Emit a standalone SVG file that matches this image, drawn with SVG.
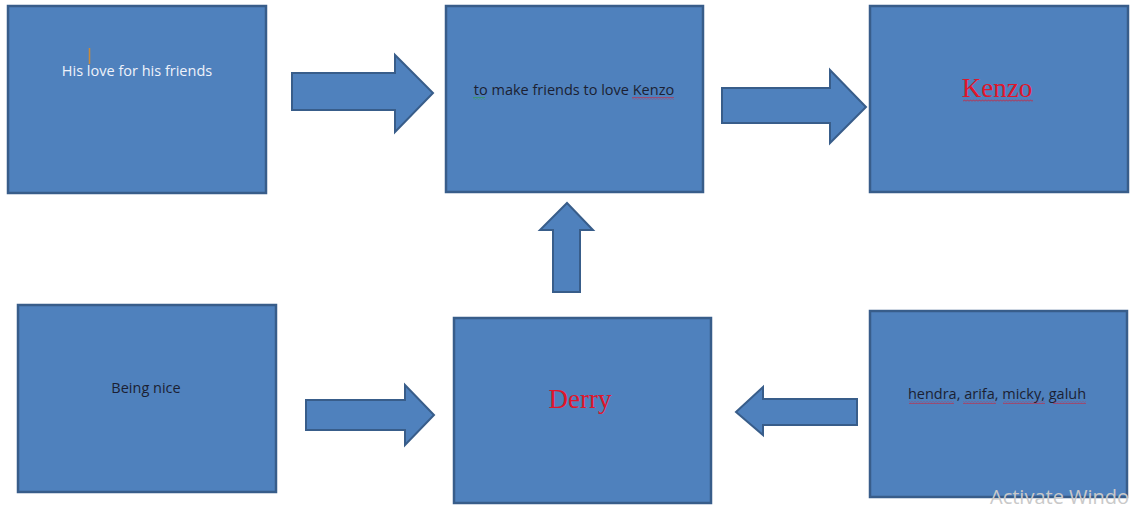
<svg xmlns="http://www.w3.org/2000/svg" width="1148" height="510" viewBox="0 0 1148 510">
<defs>
<pattern id="wavyRed" width="3" height="3" patternUnits="userSpaceOnUse">
<path d="M0 2.5 L1.5 0.8 L3 2.5" fill="none" stroke="#e0162b" stroke-width="0.8"/>
</pattern>
<pattern id="wavyGreen" width="3" height="3" patternUnits="userSpaceOnUse">
<path d="M0 2.5 L1.5 0.8 L3 2.5" fill="none" stroke="#2aa52a" stroke-width="0.8"/>
</pattern>
</defs>
<style>
.box{fill:#4f81bd;stroke:#385d8a;stroke-width:2.5}
.arr{fill:#4f81bd;stroke:#385d8a;stroke-width:2;stroke-linejoin:miter}
.t{font-family:"Open Sans","Liberation Sans",sans-serif;font-size:14.5px;text-anchor:middle;fill:#1b1f33}
.w{fill:#eef2fa}
.r{font-family:"Liberation Serif",serif;font-size:27px;text-anchor:middle;fill:#e0162b}
.wm{font-family:"Open Sans","Liberation Sans",sans-serif;font-size:20px;fill:#c9c9c9}
</style>
<rect width="1148" height="510" fill="#ffffff"/>
<g id="node-love">
<rect class="box" x="8" y="6" width="258" height="187"/>
<line x1="89.5" y1="48" x2="89.5" y2="64" stroke="#c98a3a" stroke-width="1.5"/>
<text class="t w" x="137" y="76">His love for his friends</text>
</g>
<g id="node-make">
<rect class="box" x="446" y="6" width="257" height="186"/>
<text class="t" x="574" y="95">to make friends to love Kenzo</text>
<rect x="473" y="97" width="12" height="3" fill="url(#wavyGreen)"/>
<rect x="632" y="97" width="42" height="3" fill="url(#wavyRed)"/>
</g>
<g id="node-kenzo">
<rect class="box" x="870" y="6" width="258" height="186"/>
<text class="r" x="997" y="97">Kenzo</text>
<rect x="963" y="99" width="70" height="3" fill="url(#wavyRed)"/>
</g>
<g id="node-nice">
<rect class="box" x="18" y="305" width="258" height="187"/>
<text class="t" x="146" y="393">Being nice</text>
</g>
<g id="node-derry">
<rect class="box" x="454" y="318" width="257" height="185"/>
<text class="r" x="580" y="408">Derry</text>
</g>
<g id="node-friends">
<rect class="box" x="870" y="311" width="257" height="186"/>
<text class="t" x="997" y="399">hendra, arifa, micky, galuh</text>
<rect x="909" y="401" width="45" height="3" fill="url(#wavyRed)"/>
<rect x="963" y="401" width="33" height="3" fill="url(#wavyRed)"/>
<rect x="1003" y="401" width="42" height="3" fill="url(#wavyRed)"/>
<rect x="1053" y="401" width="33" height="3" fill="url(#wavyRed)"/>
</g>
<g id="connectors">
<polygon class="arr" points="292,73 395,73 395,55 433,93 395,132 395,110 292,110"/>
<polygon class="arr" points="722,88 830,88 830,70 866,107 830,143 830,123 722,123"/>
<polygon class="arr" points="553,292 553,230 540,230 567,203 593,230 580,230 580,292"/>
<polygon class="arr" points="306,400 405,400 405,385 434,415 405,445 405,430 306,430"/>
<polygon class="arr" points="857,399 763,399 763,387 736,412 763,435 763,425 857,425"/>
</g>
<text class="wm" x="990" y="504">Activate Windo</text>
</svg>
